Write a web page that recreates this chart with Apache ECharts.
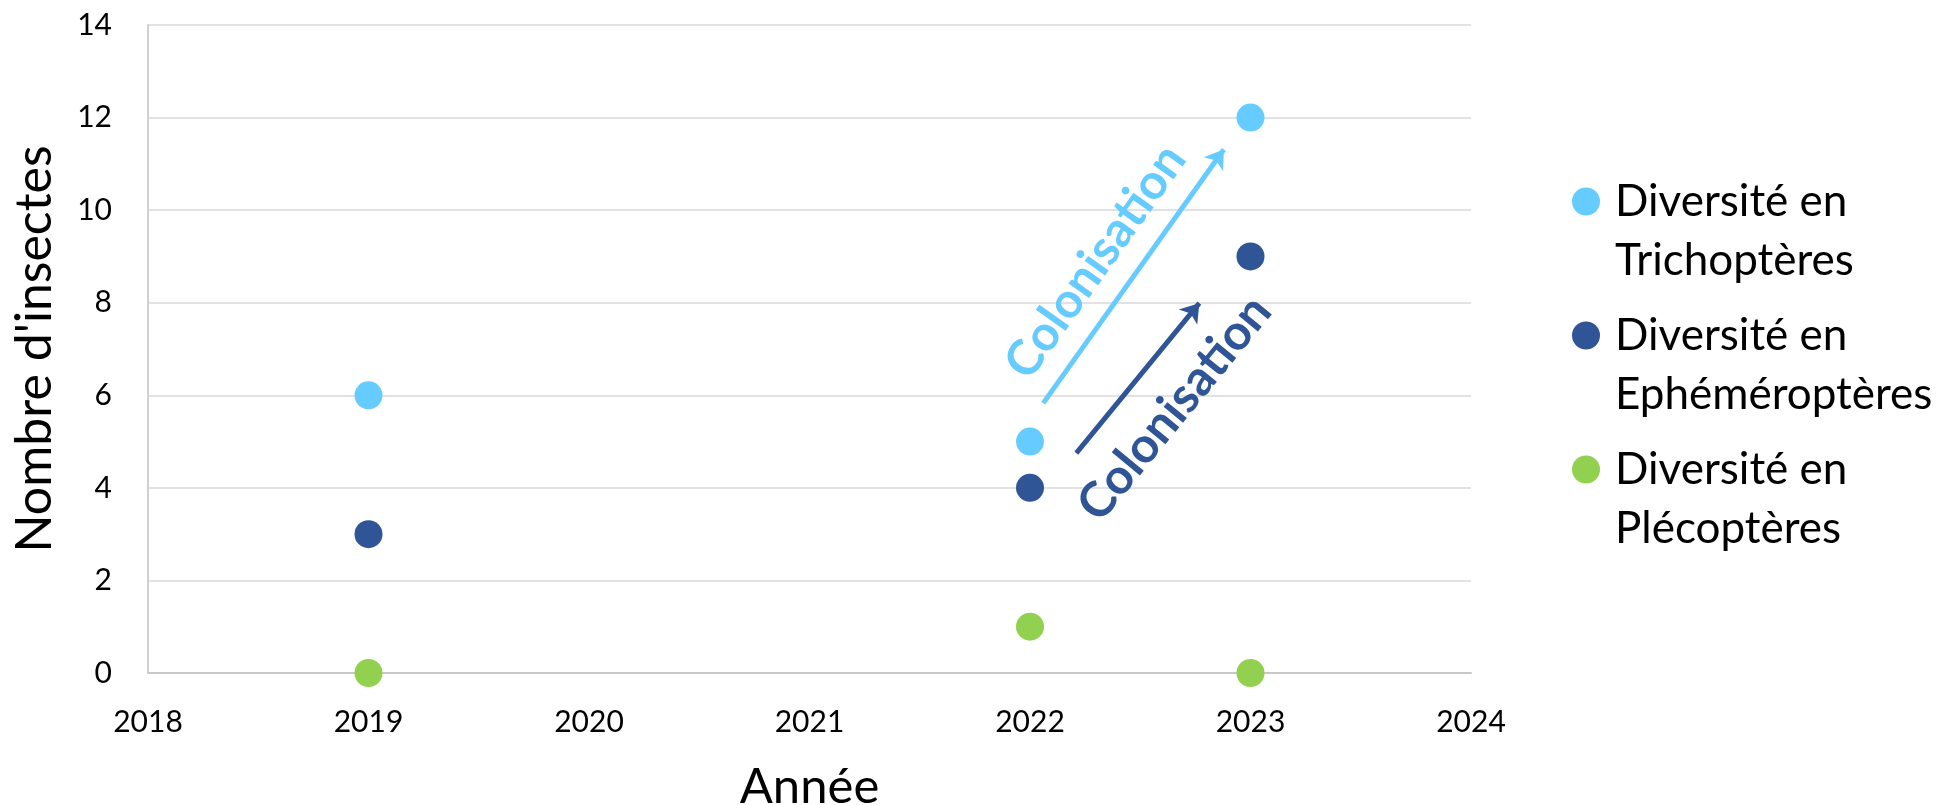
<!DOCTYPE html>
<html>
<head>
<meta charset="utf-8">
<script src="https://cdn.jsdelivr.net/npm/echarts@6/dist/echarts.min.js"></script>
<style>
  html, body { margin: 0; padding: 0; background: #ffffff; }
  #chart { width: 1946px; height: 805px; }
</style>
</head>
<body>
<div id="chart"></div>
<script>
// Years sampled and insect diversity per order
const years = [2019, 2022, 2023];
const trichopteres = [6, 5, 12];
const ephemeropteres = [3, 4, 9];
const plecopteres = [0, 1, 0];

const seriesNames = [
  'Diversité en\nTrichoptères',
  'Diversité en\nEphéméroptères',
  'Diversité en\nPlécoptères'
];

// Colonisation arrows, start and end in axis units [year, count]
const arrowTrich = [[2022.06, 5.83], [2022.879, 11.31]];
const arrowEphem = [[2022.21, 4.75], [2022.768, 7.99]];

const FONT = 'Lato, "Noto Sans", sans-serif';
const COLORS = ['#66CCFF', '#2F5597', '#92D050'];

function points(values) {
  return years.map((y, i) => [y, values[i]]);
}

function arrow(coords, color, position, distance, padding) {
  return {
    silent: true,
    animation: false,
    symbol: ['none', 'arrow'],
    symbolSize: 18,
    lineStyle: { color: color, width: 5, type: 'solid' },
    label: {
      show: true,
      formatter: 'Colonisation',
      position: position,
      distance: distance,
      padding: padding,
      color: color,
      fontFamily: FONT,
      fontWeight: 'bold',
      fontSize: 49
    },
    data: [[{ coord: coords[0] }, { coord: coords[1] }]]
  };
}

const chart = echarts.init(document.getElementById('chart'), null, { renderer: 'canvas' });

chart.setOption({
  animation: false,
  backgroundColor: '#ffffff',
  color: COLORS,
  grid: {
    left: 148, right: 475, top: 25, bottom: 132,
    containLabel: false,
    outerBoundsMode: 'none'
  },
  xAxis: {
    type: 'value',
    min: 2018,
    max: 2024,
    interval: 1,
    name: 'Année',
    nameLocation: 'middle',
    nameGap: 90,
    nameTextStyle: { fontFamily: FONT, fontSize: 49, color: '#000' },
    axisLine: { show: true, onZero: false, lineStyle: { color: '#C8C8C8', width: 2 } },
    axisTick: { show: false },
    splitLine: { show: false },
    axisLabel: {
      fontFamily: FONT, fontSize: 30, color: '#000', margin: 34,
      formatter: v => String(v)
    }
  },
  yAxis: {
    type: 'value',
    min: 0,
    max: 14,
    interval: 2,
    name: "Nombre d'insectes",
    nameLocation: 'middle',
    nameGap: 88,
    nameTextStyle: { fontFamily: FONT, fontSize: 50, color: '#000' },
    axisLine: { show: true, lineStyle: { color: '#D0D0D0', width: 2 } },
    axisTick: { show: false },
    splitLine: { show: true, lineStyle: { color: '#D9D9D9', width: 1.5 } },
    axisLabel: { fontFamily: FONT, fontSize: 30, color: '#000', margin: 36 }
  },
  legend: {
    orient: 'vertical',
    left: 1567,
    top: 108,
    itemWidth: 28,
    itemHeight: 28,
    itemGap: -43,
    icon: 'circle',
    data: seriesNames,
    // leading blank line keeps the first text line level with the marker
    formatter: name => '\n' + name,
    textStyle: {
      fontFamily: FONT,
      fontSize: 44,
      lineHeight: 59,
      color: '#000',
      padding: [0, 0, 0, 10]
    }
  },
  series: [
    {
      name: seriesNames[0],
      type: 'scatter',
      symbolSize: 28,
      itemStyle: { color: COLORS[0], opacity: 1 },
      data: points(trichopteres),
      markLine: arrow(arrowTrich, COLORS[0], 'insideMiddleTop', 15, [0, 20, 0, 0])
    },
    {
      name: seriesNames[1],
      type: 'scatter',
      symbolSize: 28,
      itemStyle: { color: COLORS[1], opacity: 1 },
      data: points(ephemeropteres),
      markLine: arrow(arrowEphem, COLORS[1], 'insideMiddleBottom', 23, 0)
    },
    {
      name: seriesNames[2],
      type: 'scatter',
      symbolSize: 28,
      itemStyle: { color: COLORS[2], opacity: 1 },
      data: points(plecopteres)
    }
  ]
});
</script>
</body>
</html>
